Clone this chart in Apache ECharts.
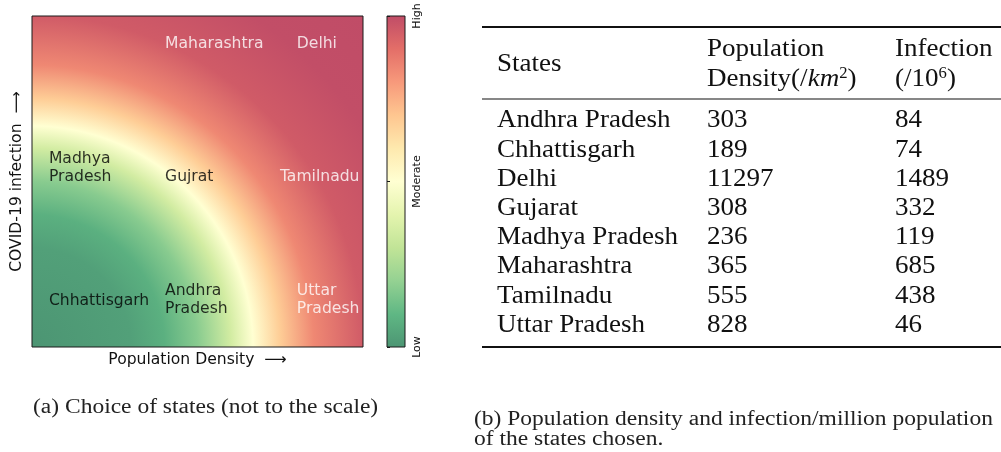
<!DOCTYPE html>
<html>
<head>
<meta charset="utf-8">
<title>States: density vs infection</title>
<script src="https://cdn.jsdelivr.net/npm/echarts@6/dist/echarts.min.js"></script>
<style>
  html, body { margin: 0; padding: 0; background: #fff; }
  #main { width: 1001px; height: 452px; }
</style>
</head>
<body>
<div id="main"></div>
<script type="text/javascript">
// (a) states placed on the map (not to the scale), 0..1 on both axes
var mapStates = ['Maharashtra', 'Delhi', 'Madhya\nPradesh', 'Gujrat', 'Tamilnadu', 'Chhattisgarh', 'Andhra\nPradesh', 'Uttar\nPradesh'];
var mapX = [0.402, 0.80, 0.051, 0.402, 0.749, 0.051, 0.402, 0.80];
var mapY = [0.915, 0.915, 0.541, 0.514, 0.514, 0.139, 0.142, 0.142];

// (b) table
var tableStates = ['Andhra Pradesh', 'Chhattisgarh', 'Delhi', 'Gujarat', 'Madhya Pradesh', 'Maharashtra', 'Tamilnadu', 'Uttar Pradesh'];
var tableDensity = [303, 189, 11297, 308, 236, 365, 555, 828];
var tableInfection = [84, 74, 1489, 332, 119, 685, 438, 46];

// colorbar ticks
var barTicks = ['Low', 'Moderate', 'High'];

// styles
var labelColors = ['#fff', '#fff', '#000', '#000', '#fff', '#000', '#000', '#fff'];
var sansFont = '"DejaVu Sans", sans-serif';
var serifFont = '"Liberation Serif", "DejaVu Serif", serif';
// RdYlGn reversed, washed out like alpha 0.7 on white
var cmap = ['#4c9573', '#5fb784', '#94d192', '#c1e497', '#e4f4ae', '#ffffd2', '#fee9ae', '#fec690', '#f7997b', '#e36e68', '#c04c67'];
// background: radial from the bottom-left corner
var heatStops = [[0, '#4c9573'], [0.211, '#52a079'], [0.282, '#5bb080'], [0.352, '#88cb8f'], [0.423, '#d2eca2'],
  [0.47, '#ffffd2'], [0.528, '#fecd96'], [0.599, '#ef8873'], [0.704, '#d05b67'], [0.845, '#c24e67'], [1, '#c04c67']];

var heatFill = {
  type: 'radial', x: 0, y: 1, r: 1.42, global: false,
  colorStops: heatStops.map(function (s) { return { offset: s[0], color: s[1] }; })
};
var barFill = {
  type: 'linear', x: 0, y: 1, x2: 0, y2: 0, global: false,
  colorStops: cmap.map(function (c, i) { return { offset: i / (cmap.length - 1), color: c }; })
};

var chart = echarts.init(document.getElementById('main'), null, { renderer: 'canvas' });

// table graphics
var graphics = [];
var tx = [497, 707, 895];
function addText(x, y, text, extra, sx) {
  var style = { x: 0, y: 0, text: text, font: '26px ' + serifFont, fill: '#111', textAlign: 'left', textVerticalAlign: 'middle' };
  for (var k in extra) style[k] = extra[k];
  graphics.push({ type: 'text', x: x, y: y, scaleX: sx || 1.04, style: style, silent: true });
}
function addRule(y, w) {
  graphics.push({ type: 'line', shape: { x1: 482, y1: y, x2: 1001, y2: y }, style: { stroke: '#111', lineWidth: w }, silent: true });
}
addRule(27, 2);
addRule(99, 1.2);
addRule(347, 2);

addText(tx[0], 64, 'States');
addText(tx[1], 49, 'Population');
addText(tx[2], 49, 'Infection');
var richSup = {
  n: { fontSize: 26, fontFamily: serifFont, color: '#111' },
  i: { fontSize: 26, fontFamily: serifFont, fontStyle: 'italic', color: '#111' },
  s: { fontSize: 16, fontFamily: serifFont, color: '#111', verticalAlign: 'top' }
};
addText(tx[1], 79, '{n|Density(/}{i|km}{s|2}{n|)}', { rich: richSup });
addText(tx[2], 79, '{n|(/10}{s|6}{n|)}', { rich: richSup });

for (var r = 0; r < tableStates.length; r++) {
  var ry = 120.5 + r * 29.2;
  addText(tx[0], ry, tableStates[r]);
  addText(tx[1], ry, String(tableDensity[r]));
  addText(tx[2], ry, String(tableInfection[r]));
}

// captions
var capFont = '20px ' + serifFont;
addText(33, 408, '(a) Choice of states (not to the scale)', { font: capFont, fill: '#222' }, 1.175);
addText(474, 420, '(b) Population density and infection/million population', { font: capFont, fill: '#222' }, 1.175);
addText(474, 440, 'of the states chosen.', { font: capFont, fill: '#222' }, 1.175);

var hidden = { axisLine: { show: false }, axisTick: { show: false }, axisLabel: { show: false }, splitLine: { show: false } };
function merge(a, b) { var o = {}; for (var k in a) o[k] = a[k]; for (var j in b) o[j] = b[j]; return o; }

var option = {
  animation: false,
  backgroundColor: '#fff',
  grid: [
    { left: 32, top: 16, width: 331, height: 331, show: true, backgroundColor: heatFill, borderColor: '#1a1a1a', borderWidth: 1 },
    { left: 387, top: 16, width: 18, height: 331, show: true, backgroundColor: barFill, borderColor: '#1a1a1a', borderWidth: 1 }
  ],
  xAxis: [
    merge(hidden, {
      gridIndex: 0, type: 'value', min: 0, max: 1,
      name: 'Population Density  \u27f6', nameLocation: 'middle', nameGap: 5,
      nameTextStyle: { fontFamily: sansFont, fontSize: 15.6, color: '#111', verticalAlign: 'top' }
    }),
    { gridIndex: 1, type: 'value', min: 0, max: 1, show: false }
  ],
  yAxis: [
    merge(hidden, {
      gridIndex: 0, type: 'value', min: 0, max: 1,
      name: 'COVID-19 infection  \u27f6', nameLocation: 'middle', nameGap: 7,
      nameTextStyle: { fontFamily: sansFont, fontSize: 15.6, color: '#111' }
    }),
    {
      gridIndex: 1, type: 'value', min: 0, max: 1, interval: 0.5, position: 'right',
      axisLine: { show: false },
      axisTick: { show: true, length: 3, lineStyle: { color: '#1a1a1a', width: 1 } },
      axisLabel: {
        rotate: 90, margin: 7, fontSize: 11, fontFamily: sansFont, color: '#111',
        formatter: function (v) { return barTicks[Math.round(v * 2)]; }
      },
      splitLine: { show: false }
    }
  ],
  series: [{
    type: 'scatter',
    xAxisIndex: 0, yAxisIndex: 0,
    symbolSize: 0,
    clip: false,
    data: mapStates.map(function (s, i) {
      return { name: s, value: [mapX[i], mapY[i]], label: { color: labelColors[i] } };
    }),
    label: {
      show: true, position: 'right', distance: 0, formatter: '{b}',
      fontFamily: sansFont, fontSize: 15.6, lineHeight: 18
    }
  }],
  graphic: graphics
};

chart.setOption(option);
</script>
</body>
</html>
